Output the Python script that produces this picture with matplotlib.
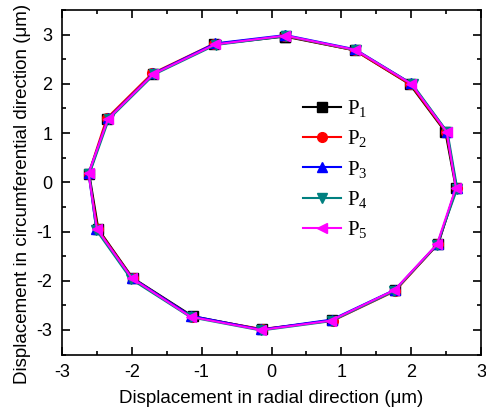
import matplotlib
matplotlib.use('Agg')
import matplotlib.pyplot as plt
from matplotlib.ticker import MultipleLocator

plt.rcParams['font.family'] = ['Liberation Sans', 'DejaVu Sans']
plt.rcParams['axes.unicode_minus'] = False
plt.rcParams['mathtext.fontset'] = 'custom'
plt.rcParams['mathtext.rm'] = 'Liberation Serif'
plt.rcParams['mathtext.it'] = 'Liberation Serif'

# measured displacement orbit, 16 points (closed back to the first)
x_p1 = [0.19, 1.19, 1.98, 2.49, 2.64, 2.39, 1.77, 0.87, -0.14, -1.13, -1.99, -2.48, -2.61, -2.35, -1.70, -0.82, 0.19]
y_p1 = [2.96, 2.68, 1.99, 1.02, -0.12, -1.25, -2.19, -2.80, -2.99, -2.72, -1.94, -0.95, 0.17, 1.29, 2.20, 2.80, 2.96]
x_p2 = [0.19, 1.19, 1.99, 2.50, 2.65, 2.38, 1.77, 0.88, -0.14, -1.14, -1.99, -2.49, -2.62, -2.36, -1.71, -0.83, 0.19]
y_p2 = [2.97, 2.68, 1.99, 1.02, -0.12, -1.26, -2.21, -2.81, -2.98, -2.73, -1.95, -0.95, 0.17, 1.30, 2.21, 2.81, 2.97]
x_p3 = [0.20, 1.20, 2.00, 2.51, 2.65, 2.38, 1.77, 0.86, -0.15, -1.16, -2.00, -2.51, -2.62, -2.34, -1.69, -0.81, 0.20]
y_p3 = [2.99, 2.70, 2.01, 1.03, -0.11, -1.25, -2.18, -2.79, -2.99, -2.71, -1.94, -0.94, 0.18, 1.30, 2.21, 2.82, 2.99]
x_p4 = [0.21, 1.21, 2.02, 2.52, 2.66, 2.37, 1.76, 0.86, -0.15, -1.16, -2.01, -2.51, -2.61, -2.33, -1.68, -0.80, 0.21]
y_p4 = [2.97, 2.68, 1.99, 1.02, -0.13, -1.27, -2.21, -2.82, -3.01, -2.74, -1.97, -0.97, 0.16, 1.28, 2.19, 2.79, 2.97]
x_p5 = [0.20, 1.20, 2.00, 2.51, 2.64, 2.37, 1.76, 0.85, -0.15, -1.16, -2.00, -2.50, -2.62, -2.34, -1.69, -0.81, 0.20]
y_p5 = [2.98, 2.69, 2.00, 1.02, -0.11, -1.26, -2.19, -2.81, -3.00, -2.73, -1.95, -0.95, 0.18, 1.29, 2.20, 2.80, 2.98]

series = [
    ('P$_1$', x_p1, y_p1, 'black', 's'),
    ('P$_2$', x_p2, y_p2, 'red', 'o'),
    ('P$_3$', x_p3, y_p3, 'blue', '^'),
    ('P$_4$', x_p4, y_p4, '#008080', 'v'),
    ('P$_5$', x_p5, y_p5, 'magenta', '<'),
]

fig = plt.figure(figsize=(4.86, 4.09), dpi=100)
ax = fig.add_axes([0.1276, 0.133, 0.8621, 0.8426])

for label, xs, ys, c, m in series:
    ax.plot(xs, ys, color=c, marker=m, markersize=7, linewidth=1.5, label=label)

ax.set_xlim(-3, 3)
ax.set_ylim(-3.5, 3.5)
ax.xaxis.set_major_locator(MultipleLocator(1))
ax.xaxis.set_minor_locator(MultipleLocator(0.5))
ax.yaxis.set_major_locator(MultipleLocator(1))
ax.yaxis.set_minor_locator(MultipleLocator(0.5))
ax.tick_params(which='both', direction='in', top=True, right=True, labelsize=13, width=1.2)
ax.tick_params(which='major', length=6, pad=7)
ax.tick_params(which='minor', length=3)
for s in ax.spines.values():
    s.set_linewidth(1.2)

ax.set_xlabel('Displacement in radial direction (\u03bcm)', fontsize=13.5, labelpad=6)
ax.set_ylabel('Displacement in circumferential direction (\u03bcm)', fontsize=13.5)
ax.yaxis.set_label_coords(-0.075, 0.467)

ax.legend(loc='upper left', bbox_to_anchor=(0.55, 0.775), frameon=False,
          prop={'family': 'Liberation Serif', 'size': 15},
          handlelength=1.85, handletextpad=0.25, labelspacing=0.45,
          borderpad=0)

fig.savefig('out.png', dpi=100)
